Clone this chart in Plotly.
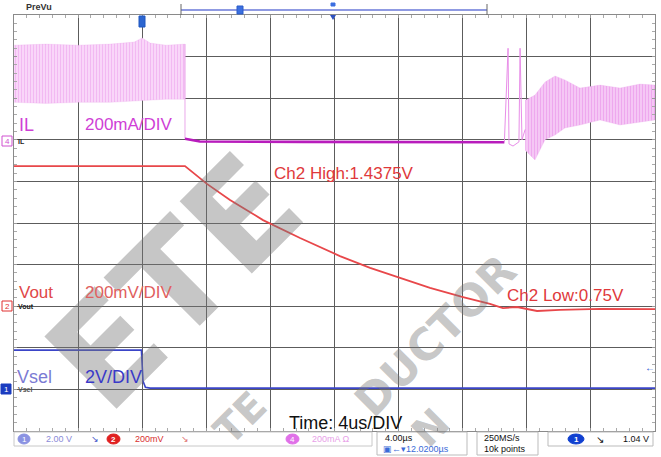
import plotly.graph_objects as go

# ---------------- scope settings ----------------
TIME_RANGE = [-8.0, 32.0]          # µs, 4 µs/div, 10 divisions
CH1_SCALE, CH1_POS = 2.0, 1.0      # Vsel : 2 V/div, ground marker at div 1
CH2_SCALE, CH2_POS, CH2_OFF = 0.2, 3.0, 0.764   # Vout : 200 mV/div
CH4_SCALE, CH4_POS = 0.2, 7.0      # IL : 200 mA/div, ground marker at div 7

# ---------------- data ----------------
# Vsel (V)
vsel_t = [-8.0, -0.05, 0.05, 0.2, 0.5, 32.0]
vsel_v = [1.89, 1.89, 0.40, 0.10, 0.06, 0.06]

# Vout (V)
vout_t = [-8.0, 2.67, 4.04, 5.48, 7.54, 9.85, 12.34, 14.22, 16.09, 17.96,
          20.02, 21.70, 22.51, 23.39, 24.64, 26.07, 28.57, 32.0]
vout_v = [1.4375, 1.4375, 1.352, 1.275, 1.178, 1.092, 1.005, 0.948, 0.900, 0.852,
          0.808, 0.775, 0.755, 0.760, 0.741, 0.746, 0.751, 0.750]

# IL (A) - switching envelope before Vsel falls
il_pre_t = [-8.0, -6.0, -4.0, -2.0, -0.5, 0.0, 0.5, 1.5, 2.67]
il_pre_hi = [0.455, 0.46, 0.455, 0.46, 0.47, 0.49, 0.465, 0.455, 0.46]
il_pre_lo = [0.18, 0.175, 0.18, 0.18, 0.185, 0.19, 0.19, 0.195, 0.195]

# IL (A) - idle segment with restart spikes
il_off_t = [2.67, 2.67, 3.6, 10.0, 16.0, 22.6]
il_off_v = [0.46, 0.005, -0.008, -0.010, -0.012, -0.012]
il_spk_t = [22.6, 22.83, 22.89, 23.14, 23.51, 23.58, 23.70, 23.9]
il_spk_v = [-0.012, 0.44, -0.02, -0.03, -0.01, 0.44, 0.0, 0.05]

# IL (A) - switching envelope after restart
il_post_t = [23.9, 24.51, 25.14, 25.76, 26.38, 27.32, 28.57, 29.82, 31.06, 32.0]
il_post_hi = [0.19, 0.215, 0.278, 0.307, 0.288, 0.249, 0.263, 0.249, 0.268, 0.263]
il_post_lo = [-0.05, -0.097, 0.0, 0.023, 0.057, 0.071, 0.095, 0.071, 0.086, 0.095]


def ch1(v): return [CH1_POS + x / CH1_SCALE for x in v]
def ch2(v): return [CH2_POS + (x - CH2_OFF) / CH2_SCALE for x in v]
def ch4(v): return [CH4_POS + x / CH4_SCALE for x in v]


fig = go.Figure()

# IL bands
for t, hi, lo, fg, bg in [(il_pre_t, il_pre_hi, il_pre_lo, "#eb96eb", "#f9dcf9"),
                           (il_post_t, il_post_hi, il_post_lo, "#e584e5", "#f6cdf6")]:
    fig.add_trace(go.Scatter(
        x=t + t[::-1], y=ch4(hi) + ch4(lo)[::-1], mode="lines", fill="toself",
        line=dict(color="rgba(230,150,230,0.4)", width=0.5),
        fillcolor=bg,
        fillpattern=dict(shape="|", fgcolor=fg, bgcolor=bg, size=3, solidity=0.45),
        hoverinfo="skip", showlegend=False))

fig.add_trace(go.Scatter(x=il_off_t[:2], y=ch4(il_off_v[:2]), mode="lines",
                         line=dict(color="#eaa8ea", width=1), showlegend=False))
fig.add_trace(go.Scatter(x=il_off_t[1:], y=ch4(il_off_v[1:]), mode="lines",
                         line=dict(color="#b81cbc", width=2.6), showlegend=False))
fig.add_trace(go.Scatter(x=il_spk_t, y=ch4(il_spk_v), mode="lines",
                         line=dict(color="#e88ee8", width=1), showlegend=False))

# Vout
fig.add_trace(go.Scatter(x=vout_t, y=ch2(vout_v), mode="lines",
                         line=dict(color="#e8474a", width=1.8), showlegend=False))
# Vsel
fig.add_trace(go.Scatter(x=vsel_t, y=ch1(vsel_v), mode="lines",
                         line=dict(color="#3b45c8", width=1.6), showlegend=False))


def px(x): return (x - 14) / 641.0
def py(y): return (431 - y) / 416.0


ann = []
def txt(x, y, s, size, color, xa="left", ya="middle", family="Liberation Sans, Arial", angle=0):
    ann.append(dict(x=px(x), y=py(y), xref="paper", yref="paper", text=s, showarrow=False,
                    xanchor=xa, yanchor=ya, textangle=angle,
                    font=dict(size=size, color=color, family=family)))

# watermark (drawn first so labels sit on top)
wm = "rgba(120,120,120,0.42)"
txt(174, 282, "<b>ETE</b>", 140, wm, xa="center", family="DejaVu Sans, Arial", angle=-45)
txt(435, 335, "<b>DUCTOR</b>", 44, wm, xa="center", family="DejaVu Sans, Arial", angle=-45)
txt(240, 418, "<b>TE</b>", 40, wm, xa="center", family="DejaVu Sans, Arial", angle=-45)
txt(430, 428, "<b>N</b>", 40, wm, xa="center", family="DejaVu Sans, Arial", angle=-45)

# channel labels
txt(17, 125, "IL", 18, "#cf3fd6")
txt(83, 125, "200mA/DIV", 17, "#cf3fd6")
txt(272, 173, "Ch2 High:1.4375V", 17, "#e0393b")
txt(17, 292, "Vout", 17, "#e04848")
txt(83, 292, "200mV/DIV", 17, "#e06060")
txt(505, 295, "Ch2 Low:0.75V", 17, "#e0393b")
txt(15, 377, "Vsel", 18, "#7b7bd4")
txt(83, 377, "2V/DIV", 18, "#3a3ac8")
txt(287, 423, "Time: 4us/DIV", 18, "#111111")

# small channel markers
txt(16, 141, "<b>IL</b>", 7, "#222")
txt(16, 306, "<b>Vout</b>", 7, "#222")
txt(16, 389, "<b>Vsel</b>", 7, "#555")
txt(7, 141, "4", 8, "#d050d0", xa="center")
txt(7, 306, "2", 8, "#e03030", xa="center")
txt(6, 389, "1", 8, "white", xa="center")
txt(650, 367, "<b>←</b>", 10, "#2050d0", xa="center")

# header
txt(24, 7, "<b>PreVu</b>", 9, "#333")

# status bar
txt(24, 439, "1", 8, "white", xa="center")
txt(44, 439, "2.00 V", 9, "#8a8ad8")
txt(95, 439, "↘", 9, "#4050c8", xa="center")
txt(113, 439, "<b>2</b>", 8, "white", xa="center")
txt(133, 439, "200mV", 9, "#d83030")
txt(185, 439, "↘", 9, "#e07070", xa="center")
txt(292, 439, "4", 8, "white", xa="center")
txt(310, 439, "200mA Ω", 9, "#e8a0e8")
txt(383, 438, "4.00µs", 9, "#111")
txt(381, 449, "▣←▾12.0200µs", 9, "#3a6ad8")
txt(482, 438, "250MS/s", 9, "#111")
txt(482, 449, "10k points", 9, "#111")
txt(600, 439, "↘", 10, "#111", xa="center")
txt(621, 439, "1.04 V", 9, "#111")

shapes = []
def rect(x0, y0, x1, y1, line="#bbb", fill=None, lw=1, kind="rect"):
    shapes.append(dict(type=kind, xref="paper", yref="paper", x0=px(x0), x1=px(x1),
                       y0=py(y1), y1=py(y0), line=dict(color=line, width=lw),
                       fillcolor=fill, layer="above"))

# header bar
shapes.append(dict(type="line", xref="paper", yref="paper", x0=px(181), x1=px(487),
                   y0=py(10), y1=py(10), line=dict(color="#6a78d8", width=1.5)))
shapes.append(dict(type="line", xref="paper", yref="paper", x0=px(181), x1=px(181),
                   y0=py(4), y1=py(15), line=dict(color="#666", width=1)))
shapes.append(dict(type="line", xref="paper", yref="paper", x0=px(487), x1=px(487),
                   y0=py(4), y1=py(15), line=dict(color="#666", width=1)))
rect(237, 6, 243, 14, line="#2a5cc8", fill="#3b6fe0")
rect(331, 3, 335, 6, line="#3b6fe0", fill="#3b6fe0")
rect(139, 16, 145, 27, line="#1f56c0", fill="#2d66d0")
shapes.append(dict(type="path", xref="paper", yref="paper",
                   path=f"M {px(330)} {py(15)} L {px(336)} {py(15)} L {px(333)} {py(20)} Z",
                   fillcolor="#2d50c0", line=dict(width=0)))
# channel marker boxes
rect(2, 136, 12, 146, line="#d050d0", fill="white")
rect(2, 301, 12, 311, line="#e03030", fill="white")
rect(1, 384, 11, 394, line="#1b3cc0", fill="#1b3cc0")

# status bar frames
rect(14, 432, 372, 446, line="#c8c8c8", fill="rgba(255,255,255,0)")
rect(377, 432, 467, 455, line="#bbbbbb", fill="rgba(255,255,255,0)")
rect(477, 432, 538, 455, line="#bbbbbb", fill="rgba(255,255,255,0)")
rect(548, 432, 653, 446, line="#bbbbbb", fill="rgba(255,255,255,0)")
rect(18, 434, 30, 444, line="#8a92e2", fill="#8a92e2", kind="circle")
rect(107, 434, 120, 444, line="#e02020", fill="#e02020", kind="circle")
rect(286, 434, 299, 444, line="#e070e8", fill="#e070e8", kind="circle")
rect(568, 434, 584, 444, line="#1040d0", fill="#1040d0", kind="circle")
txt(576, 439, "<b>1</b>", 8, "white", xa="center")

fig.update_layout(
    width=661, height=457,
    margin=dict(l=14, r=6, t=15, b=26),
    paper_bgcolor="white", plot_bgcolor="white",
    showlegend=False,
    annotations=ann, shapes=shapes,
    xaxis=dict(range=TIME_RANGE, dtick=4, tick0=-8, showgrid=True, gridcolor="#5c5c5c",
               gridwidth=1, zeroline=False, showticklabels=False, showline=True,
               linecolor="#8a8a8a", mirror="ticks", ticks="inside", ticklen=3,
               tickcolor="#999",
               minor=dict(dtick=0.8, ticks="inside", ticklen=3, tickcolor="#aaa", showgrid=False)),
    yaxis=dict(range=[0, 10], dtick=1, tick0=0, showgrid=True, gridcolor="#5c5c5c",
               gridwidth=1, zeroline=False, showticklabels=False, showline=True,
               linecolor="#8a8a8a", mirror="ticks", ticks="inside", ticklen=3,
               tickcolor="#999",
               minor=dict(dtick=0.2, ticks="inside", ticklen=3, tickcolor="#aaa", showgrid=False)),
)

fig.write_html("out.html",
               config={"displayModeBar": False, "staticPlot": True},
               post_script="document.body.style.margin='0';document.body.style.overflow='hidden';")
